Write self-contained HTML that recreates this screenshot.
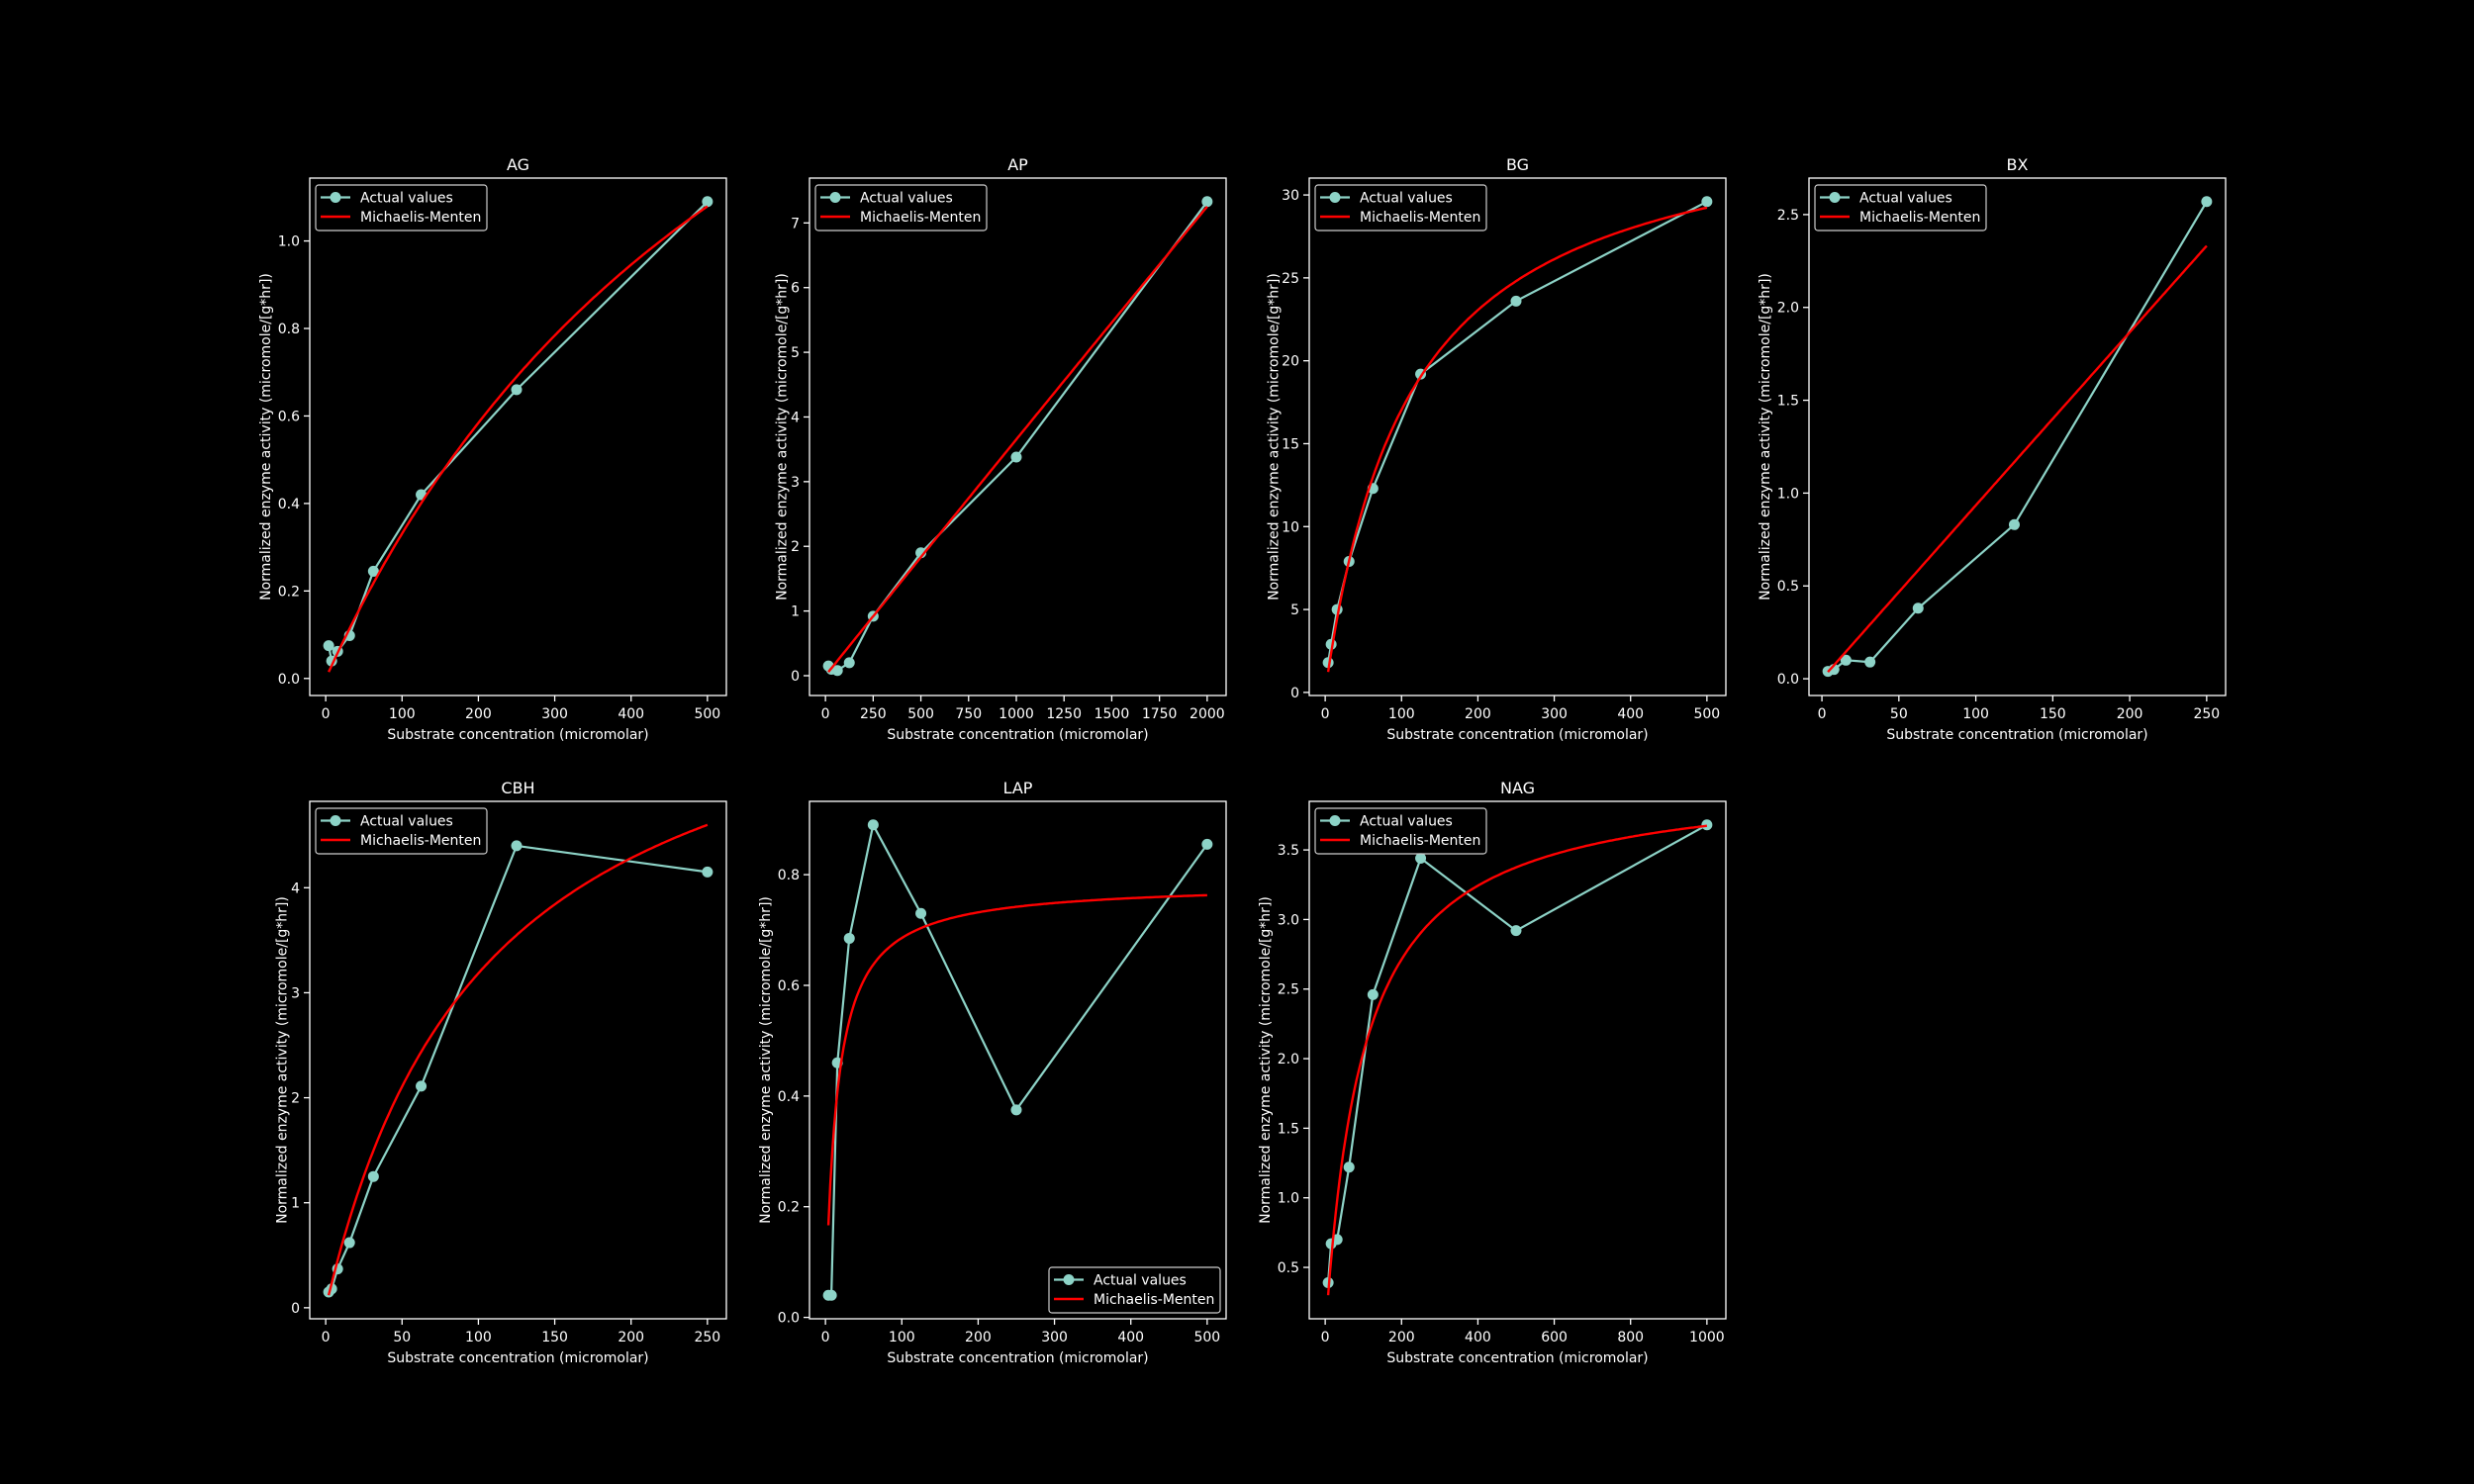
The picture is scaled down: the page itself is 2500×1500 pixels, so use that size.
<!DOCTYPE html>
<html><head><meta charset="utf-8">
<style>
html,body{margin:0;padding:0;background:#000;}
svg{display:block;font-family:"DejaVu Sans","Liberation Sans",sans-serif;}
</style></head>
<body>
<svg id="fig" width="2500" height="1500" viewBox="0 0 2500 1500" xmlns="http://www.w3.org/2000/svg">
<rect x="0" y="0" width="2500" height="1500" fill="#000"/>
</svg>
<script>
// ---- data ----
const panelNames = ["AG","AP","BG","BX","CBH","LAP","NAG"];
const agX = [3.9,7.8,15.6,31.25,62.5,125,250,500];
const agY = [0.075,0.04,0.062,0.098,0.245,0.42,0.66,1.09];
const apX = [15.6,31.25,62.5,125,250,500,1000,2000];
const apY = [0.15,0.1,0.08,0.2,0.92,1.9,3.38,7.33];
const bgX = [3.9,7.8,15.6,31.25,62.5,125,250,500];
const bgY = [1.8,2.9,5.0,7.9,12.3,19.2,23.6,29.6];
const bxX = [3.9,7.8,15.6,31.25,62.5,125,250];
const bxY = [0.04,0.05,0.1,0.09,0.38,0.83,2.57];
const cbhX = [1.95,3.9,7.8,15.6,31.25,62.5,125,250];
const cbhY = [0.15,0.18,0.37,0.62,1.25,2.11,4.4,4.15];
const lapX = [3.9,7.8,15.6,31.25,62.5,125,250,500];
const lapY = [0.04,0.04,0.46,0.685,0.89,0.73,0.375,0.855];
const nagX = [7.8,15.6,31.25,62.5,125,250,500,1000];
const nagY = [0.39,0.67,0.70,1.22,2.46,3.44,2.92,3.68];
// Michaelis-Menten fit parameters
const mmVmax = [2.48,515,35.6,935,6.53,0.785,4.03];
const mmKm = [649,140000,108.8,100000,105,14.5,97.1];
// tick labels
const agXT = [0,100,200,300,400,500], agYT = ["0.0","0.2","0.4","0.6","0.8","1.0"];
const apXT = [0,250,500,750,1000,1250,1500,1750,2000], apYT = ["0","1","2","3","4","5","6","7"];
const bgXT = [0,100,200,300,400,500], bgYT = ["0","5","10","15","20","25","30"];
const bxXT = [0,50,100,150,200,250], bxYT = ["0.0","0.5","1.0","1.5","2.0","2.5"];
const cbhXT = [0,50,100,150,200,250], cbhYT = ["0","1","2","3","4"];
const lapXT = [0,100,200,300,400,500], lapYT = ["0.0","0.2","0.4","0.6","0.8"];
const nagXT = [0,200,400,600,800,1000], nagYT = ["0.5","1.0","1.5","2.0","2.5","3.0","3.5"];

const panels = [
 {xs:agX,ys:agY,xt:agXT,yt:agYT},
 {xs:apX,ys:apY,xt:apXT,yt:apYT},
 {xs:bgX,ys:bgY,xt:bgXT,yt:bgYT},
 {xs:bxX,ys:bxY,xt:bxXT,yt:bxYT},
 {xs:cbhX,ys:cbhY,xt:cbhXT,yt:cbhYT},
 {xs:lapX,ys:lapY,xt:lapXT,yt:lapYT,legendBR:true},
 {xs:nagX,ys:nagY,xt:nagXT,yt:nagYT}
];
const NS="http://www.w3.org/2000/svg";
const svg=document.getElementById('fig');
function mk(tag,attrs,parent){const e=document.createElementNS(NS,tag);for(const k in attrs)e.setAttribute(k,attrs[k]);(parent||svg).appendChild(e);return e;}
const W=421,H=523,TEAL="#8dd3c7",RED="#ff0000",FS=14;
panels.forEach((p,i)=>{
 const col=i%4,row=Math.floor(i/4);
 const L=313+505*col,T=180+630*row,R=L+W,B=T+H;
 const g=mk('g',{});
 
 
 const V=mmVmax[i],K=mmKm[i];
 const xmin=Math.min(...p.xs),xmax=Math.max(...p.xs);
 const cx=[],cy=[];
 for(let k=0;k<=200;k++){const x=xmin+(xmax-xmin)*k/200;cx.push(x);cy.push(V*x/(K+x));}
 const allY=p.ys.concat(cy);
 let ymin=Math.min(...allY),ymax=Math.max(...allY);
 const dx=(xmax-xmin)*0.05,dy=(ymax-ymin)*0.05;
 const x0=xmin-dx,x1=xmax+dx,y0=ymin-dy,y1=ymax+dy;
 const sx=x=>L+(x-x0)/(x1-x0)*W, sy=y=>B-(y-y0)/(y1-y0)*H;
 const t=mk('text',{x:(L+R)/2,y:T-8,fill:'#fff','font-size':16,'text-anchor':'middle'},g);
 t.textContent=panelNames[i];
 
 
 p.xt.forEach(v=>{const x=sx(v);
  mk('line',{x1:x,x2:x,y1:B,y2:B+6,stroke:'#fff','stroke-width':1.3},g);
  const tl=mk('text',{x:x,y:B+23,fill:'#fff','font-size':FS,'text-anchor':'middle'},g);tl.textContent=v;
  
  
 });
 let maxw=0;
 p.yt.forEach(s=>{const v=parseFloat(s);const y=sy(v);
  mk('line',{x1:L-6,x2:L,y1:y,y2:y,stroke:'#fff','stroke-width':1.3},g);
  const tl=mk('text',{x:L-10,y:y+5,fill:'#fff','font-size':FS,'text-anchor':'end'},g);tl.textContent=s;
  
  
  maxw=Math.max(maxw,s.length*8.3);
 });
 const xl=mk('text',{x:(L+R)/2,y:B+44,fill:'#fff','font-size':FS,'text-anchor':'middle'},g);
 xl.textContent='Substrate concentration (micromolar)';
 
 
 const yx=L-10-maxw-5;
 const yl=mk('text',{x:yx,y:(T+B)/2,fill:'#fff','font-size':FS,'text-anchor':'middle',transform:`rotate(-90 ${yx} ${(T+B)/2})`},g);
 yl.textContent='Normalized enzyme activity (micromole/[g*hr])';
 
 
 const pts=p.xs.map((x,k)=>sx(x).toFixed(1)+','+sy(p.ys[k]).toFixed(1)).join(' ');
 const al=mk('polyline',{points:pts,fill:'none',stroke:TEAL,'stroke-width':2.2},g);
 
 
 p.xs.forEach((x,k)=>{const c=mk('circle',{cx:sx(x),cy:sy(p.ys[k]),r:5.5,fill:TEAL},g);
  
  });
 const cp=cx.map((x,k)=>sx(x).toFixed(1)+','+sy(cy[k]).toFixed(1)).join(' ');
 const ml=mk('polyline',{points:cp,fill:'none',stroke:RED,'stroke-width':2.4},g);
 
 
 const fr=mk('rect',{x:L,y:T,width:W,height:H,fill:'none',stroke:'#fff','stroke-width':1.3},g);
 
 
 const lw=173,lh=46;
 const lx=p.legendBR?R-6-lw:L+6, ly=p.legendBR?B-6-lh:T+7;
 const lg=mk('g',{},g);
 
 
 mk('rect',{x:lx,y:ly,width:lw,height:lh,rx:3,fill:'#000',stroke:'#ccc','stroke-width':1.2,'fill-opacity':0.8},lg);
 mk('line',{x1:lx+5,x2:lx+35,y1:ly+12.5,y2:ly+12.5,stroke:TEAL,'stroke-width':2.2},lg);
 mk('circle',{cx:lx+20,cy:ly+12.5,r:5.5,fill:TEAL},lg);
 const a=mk('text',{x:lx+45,y:ly+17.5,fill:'#fff','font-size':FS},lg);a.textContent='Actual values';
 mk('line',{x1:lx+5,x2:lx+35,y1:ly+32,y2:ly+32,stroke:RED,'stroke-width':2.4},lg);
 const b=mk('text',{x:lx+45,y:ly+37,fill:'#fff','font-size':FS},lg);b.textContent='Michaelis-Menten';
});
</script>
</body></html>
